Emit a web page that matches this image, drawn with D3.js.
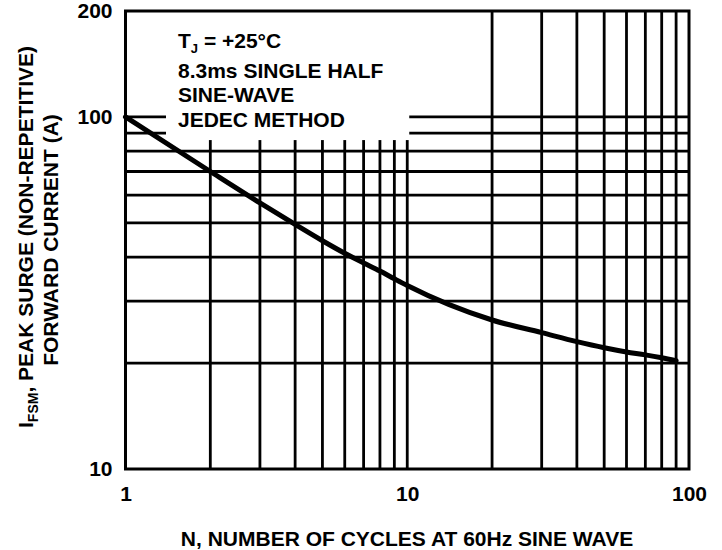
<!DOCTYPE html>
<html>
<head>
<meta charset="utf-8">
<script src="https://cdn.jsdelivr.net/npm/d3@7"></script>
<style>
  body { margin: 0; background: #fff; }
  svg text { font-family: "Liberation Sans", Arial, sans-serif; font-weight: bold; fill: #000; }
</style>
</head>
<body>
<svg id="chart" width="722" height="550"></svg>
<script>
// ---- data ----
const cycles  = [1, 2, 3, 4, 5, 6, 7, 8, 9, 10, 20, 30, 40, 50, 60, 70, 80, 90];
const current = [100, 70, 57, 49.5, 44.5, 41, 38.5, 36.5, 34.7, 33.2, 26.5, 24.4, 23, 22.1, 21.5, 21.1, 20.7, 20.3];
const xTickLabels = [1, 10, 100];
const yTickLabels = [10, 100, 200];
const xGridValues = [2, 3, 4, 5, 6, 7, 8, 9, 10, 20, 30, 40, 50, 60, 70, 80, 90];
const yGridValues = [20, 30, 40, 50, 60, 70, 80, 90, 100];
const noteLines = ["8.3ms SINGLE HALF", "SINE-WAVE", "JEDEC METHOD"];
const xTitle = "N, NUMBER OF CYCLES AT 60Hz SINE WAVE";
const yTitle1 = ", PEAK SURGE (NON-REPETITIVE)";
const yTitle2 = "FORWARD CURRENT (A)";

// ---- layout ----
const L = 125.5, R = 689, T = 11, B = 469;
const FS = "21px";
const svg = d3.select("#chart");
const x = d3.scaleLog().domain([1, 100]).range([L, R]);
const y = d3.scaleLog().domain([10, 200]).range([B, T]);

// grid
const grid = svg.append("g");
grid.selectAll("line.v").data(xGridValues).join("line")
  .attr("x1", d => x(d)).attr("x2", d => x(d))
  .attr("y1", T).attr("y2", B)
  .attr("stroke", "#000").attr("stroke-width", 2.8);
grid.selectAll("line.h").data(yGridValues).join("line")
  .attr("x1", L).attr("x2", R)
  .attr("y1", d => y(d)).attr("y2", d => y(d))
  .attr("stroke", "#000").attr("stroke-width", 2.8);

// white note box hiding part of the grid
svg.append("rect")
  .attr("x", 166).attr("y", T + 1)
  .attr("width", x(10) + 2 - 166).attr("height", y(90) + 6 - T)
  .attr("fill", "#fff");

// curve
const line = d3.line()
  .x((d, i) => x(cycles[i]))
  .y((d, i) => y(current[i]))
  .curve(d3.curveMonotoneX);
svg.append("path")
  .attr("d", line(cycles))
  .attr("fill", "none").attr("stroke", "#000")
  .attr("stroke-width", 5).attr("stroke-linecap", "round");

// frame
svg.append("rect")
  .attr("x", L).attr("y", T).attr("width", R - L).attr("height", B - T)
  .attr("fill", "none").attr("stroke", "#000").attr("stroke-width", 3);

// axes
const fmt = d3.format("d");
const ax = svg.append("g").attr("transform", `translate(0,${B})`)
  .call(d3.axisBottom(x).tickValues(xTickLabels).tickFormat(fmt).tickSize(0).tickPadding(17));
const ay = svg.append("g").attr("transform", `translate(${L},0)`)
  .call(d3.axisLeft(y).tickValues(yTickLabels).tickFormat(fmt).tickSize(0).tickPadding(13));
[ax, ay].forEach(g => {
  g.select(".domain").remove();
  g.selectAll("text").style("font-size", FS).attr("font-family", null).attr("fill", "#000");
});

// notes
const tj = svg.append("text").attr("x", 178).attr("y", 48).style("font-size", FS);
tj.append("tspan").text("T");
tj.append("tspan").text("J").style("font-size", "13px").attr("dy", 5);
tj.append("tspan").text(" = +25°C").attr("dy", -5);
noteLines.forEach((t, i) => {
  svg.append("text").attr("x", 178).attr("y", [78, 102, 127][i])
    .style("font-size", FS).text(t);
});

// x title
svg.append("text").attr("x", 407).attr("y", 546)
  .attr("text-anchor", "middle").style("font-size", FS).text(xTitle);

// y title
const yt1 = svg.append("text")
  .attr("transform", "translate(33,237) rotate(-90)")
  .attr("text-anchor", "middle").style("font-size", FS);
yt1.append("tspan").text("I");
yt1.append("tspan").text("FSM").style("font-size", "14px").attr("dy", 5);
yt1.append("tspan").text(yTitle1).attr("dy", -5);
svg.append("text")
  .attr("transform", "translate(58,240) rotate(-90)")
  .attr("text-anchor", "middle").style("font-size", FS).text(yTitle2);
</script>
</body>
</html>
